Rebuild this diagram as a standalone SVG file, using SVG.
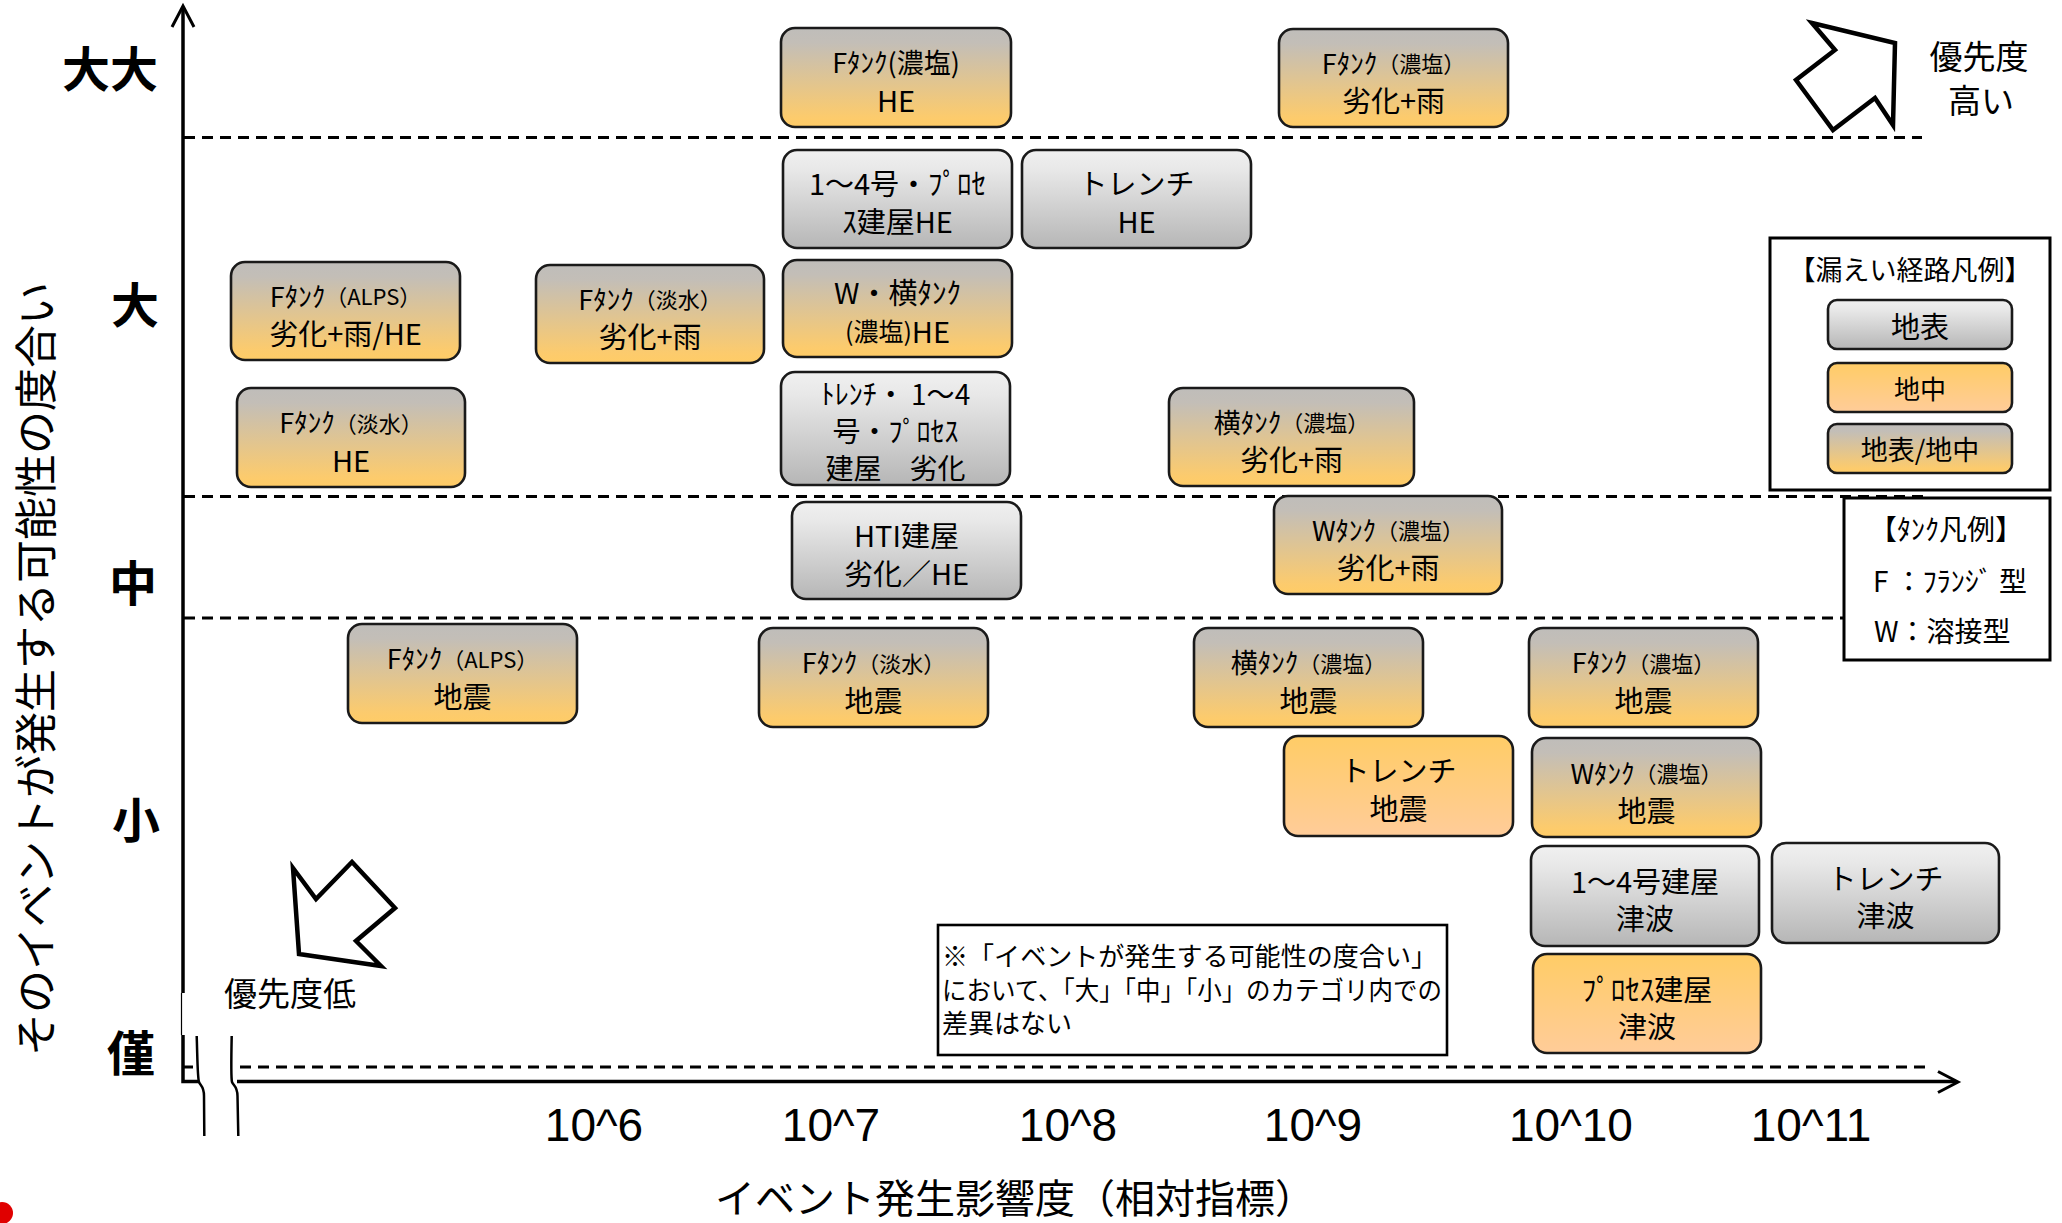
<svg xmlns="http://www.w3.org/2000/svg" width="2062" height="1223" viewBox="0 0 2062 1223">
<style>
text{font-family:"Noto Sans CJK JP","Noto Sans",sans-serif;fill:#000;}
.t{text-anchor:middle;dominant-baseline:central;font-size:29px;}
.s1{font-size:27px;}
.sm{font-size:22px;}
.b{stroke:#1a1a1a;stroke-width:2.6;}
.cat{font-size:48px;font-weight:bold;text-anchor:middle;dominant-baseline:central;}
.tick{font-family:"Liberation Sans",Arial,sans-serif;font-size:46px;text-anchor:middle;}
.dash{stroke:#000;stroke-width:3;stroke-dasharray:11 7;fill:none;}
.ax{stroke:#000;stroke-width:3.5;fill:none;}
.lg{font-size:27px;}
</style>
<defs>
<linearGradient id="gMix" x1="0" y1="0" x2="0" y2="1">
<stop offset="0" stop-color="#BFBDBA"/>
<stop offset="0.15" stop-color="#C3BEB7"/>
<stop offset="0.9" stop-color="#FCCB6D"/>
<stop offset="1" stop-color="#FFCC66"/>
</linearGradient>
<linearGradient id="gGray" x1="0" y1="0" x2="0" y2="1">
<stop offset="0" stop-color="#F0F0F0"/>
<stop offset="0.2" stop-color="#E8E8E8"/>
<stop offset="1" stop-color="#B6B6B6"/>
</linearGradient>
<linearGradient id="gPeach" x1="0" y1="0" x2="0" y2="1">
<stop offset="0" stop-color="#FFCC66"/>
<stop offset="1" stop-color="#FFCC99"/>
</linearGradient>
</defs>
<rect width="2062" height="1223" fill="#fff"/>

<g id="axes">
<line class="dash" x1="184" y1="137.5" x2="1922" y2="137.5"/>
<line class="dash" x1="184" y1="496.5" x2="1923" y2="496.5"/>
<line class="dash" x1="184" y1="618" x2="1844" y2="618"/>
<line class="dash" x1="183" y1="1067" x2="193" y2="1067" stroke-dasharray="none"/>
<line class="dash" x1="240" y1="1067" x2="1925" y2="1067"/>
<path class="ax" d="M183,8 L183,993"/>
<line x1="181.5" y1="993" x2="181.5" y2="1035" stroke="#000" stroke-width="1.2"/>
<path class="ax" d="M183,1035 L183,1081.5 L199,1081.5"/>
<path class="ax" d="M237,1081.5 L1956,1081.5"/>
<path d="M172,27 L183,6 L194,27" stroke="#000" stroke-width="3" fill="none"/>
<path d="M1938,1071.5 L1958,1082 L1938,1092.5" stroke="#000" stroke-width="3" fill="none"/>
<path d="M196.7,1036 C197.5,1060 197.5,1078 199,1082 C200.5,1086 204,1086 204,1096 L204.3,1136" stroke="#000" stroke-width="2.5" fill="none"/>
<path d="M231.7,1036 C231.2,1060 231,1078 232,1082 C233.5,1086 237.3,1086 237.5,1096 L238.3,1136" stroke="#000" stroke-width="2.5" fill="none"/>
</g>

<g id="axis-labels">
<text class="cat" x="110" y="66">大大</text>
<text class="cat" x="135" y="302">大</text>
<text class="cat" x="133" y="580">中</text>
<text class="cat" x="136" y="817">小</text>
<text class="cat" x="131" y="1050">僅</text>
<text transform="translate(33,669) rotate(-90)" text-anchor="middle" dominant-baseline="central" font-size="43">そのイベントが発生する可能性の度合い</text>
<text x="1015" y="1196" text-anchor="middle" dominant-baseline="central" font-size="40">イベント発生影響度（相対指標）</text>
<text class="tick" x="594" y="1141">10^6</text>
<text class="tick" x="831" y="1141">10^7</text>
<text class="tick" x="1068" y="1141">10^8</text>
<text class="tick" x="1313" y="1141">10^9</text>
<text class="tick" x="1571" y="1141">10^10</text>
<text class="tick" x="1811" y="1141">10^11</text>
</g>

<g id="priority">
<polygon points="1812,23 1895,43 1893,125 1875,98 1833,130 1796,80 1835,50" fill="#fff" stroke="#000" stroke-width="4.5" stroke-linejoin="miter"/>
<text x="1979" y="55" text-anchor="middle" dominant-baseline="central" font-size="33">優先度</text>
<text x="1981" y="99" text-anchor="middle" dominant-baseline="central" font-size="33">高い</text>
<polygon points="293,868 316,899 352,862 395,908 356,941 381,966 299,954" fill="#fff" stroke="#000" stroke-width="4.5"/>
<text x="290" y="992" text-anchor="middle" dominant-baseline="central" font-size="33">優先度低</text>
</g>

<g id="n1"><rect class="b" x="781" y="28" width="230" height="99" rx="14" fill="url(#gMix)"/>
<text class="t s1" x="896" y="61.5">Fﾀﾝｸ(濃塩)</text><text class="t" x="896" y="98.5">HE</text></g>
<g id="n2"><rect class="b" x="1279" y="29" width="229" height="98" rx="14" fill="url(#gMix)"/>
<text class="t s1" x="1393.5" y="62">Fﾀﾝｸ<tspan class="sm">（濃塩）</tspan></text><text class="t" x="1393.5" y="99">劣化+雨</text></g>
<g id="n3"><rect class="b" x="783" y="150" width="229" height="98" rx="14" fill="url(#gGray)"/>
<text class="t" x="897.5" y="182">1〜4号・ﾌﾟﾛｾ</text><text class="t" x="897.5" y="220">ｽ建屋HE</text></g>
<g id="n4"><rect class="b" x="1022" y="150" width="229" height="98" rx="14" fill="url(#gGray)"/>
<text class="t" x="1136.5" y="182">トレンチ</text><text class="t" x="1136.5" y="220">HE</text></g>
<g id="n5"><rect class="b" x="231" y="262" width="229" height="98" rx="14" fill="url(#gMix)"/>
<text class="t s1" x="345.5" y="295">Fﾀﾝｸ<tspan class="sm">（ALPS）</tspan></text><text class="t" x="345.5" y="332">劣化+雨/HE</text></g>
<g id="n6"><rect class="b" x="536" y="265" width="228" height="98" rx="14" fill="url(#gMix)"/>
<text class="t s1" x="650" y="298">Fﾀﾝｸ<tspan class="sm">（淡水）</tspan></text><text class="t" x="650" y="335">劣化+雨</text></g>
<g id="n7"><rect class="b" x="783" y="260" width="229" height="97" rx="14" fill="url(#gMix)"/>
<text class="t" x="897.5" y="291">W・横ﾀﾝｸ</text><text class="t" x="897.5" y="330"><tspan font-size="25">(濃塩)</tspan>HE</text></g>
<g id="n8"><rect class="b" x="237" y="388" width="228" height="99" rx="14" fill="url(#gMix)"/>
<text class="t s1" x="351" y="421.5">Fﾀﾝｸ<tspan class="sm">（淡水）</tspan></text><text class="t" x="351" y="458.5">HE</text></g>
<g id="n9"><rect class="b" x="781" y="372" width="229" height="113" rx="14" fill="url(#gGray)"/>
<text class="t" x="895.5" y="393" style="font-size:28px">ﾄﾚﾝﾁ・ 1〜4</text><text class="t" x="895.5" y="430" style="font-size:28px">号・ﾌﾟﾛｾｽ</text><text class="t" x="895.5" y="467" style="font-size:28px">建屋　劣化</text></g>
<g id="n10"><rect class="b" x="1169" y="388" width="245" height="98" rx="14" fill="url(#gMix)"/>
<text class="t s1" x="1291.5" y="421">横ﾀﾝｸ<tspan class="sm">（濃塩）</tspan></text><text class="t" x="1291.5" y="458">劣化+雨</text></g>
<g id="n11"><rect class="b" x="792" y="502" width="229" height="97" rx="14" fill="url(#gGray)"/>
<text class="t" x="906.5" y="534">HTI建屋</text><text class="t" x="906.5" y="571.5">劣化／HE</text></g>
<g id="n12"><rect class="b" x="1274" y="496" width="228" height="98" rx="14" fill="url(#gMix)"/>
<text class="t s1" x="1388" y="529">Wﾀﾝｸ<tspan class="sm">（濃塩）</tspan></text><text class="t" x="1388" y="566">劣化+雨</text></g>
<g id="n13"><rect class="b" x="348" y="624" width="229" height="99" rx="14" fill="url(#gMix)"/>
<text class="t s1" x="462.5" y="657.5">Fﾀﾝｸ<tspan class="sm">（ALPS）</tspan></text><text class="t" x="462.5" y="694.5">地震</text></g>
<g id="n14"><rect class="b" x="759" y="628" width="229" height="99" rx="14" fill="url(#gMix)"/>
<text class="t s1" x="873.5" y="661.5">Fﾀﾝｸ<tspan class="sm">（淡水）</tspan></text><text class="t" x="873.5" y="698.5">地震</text></g>
<g id="n15"><rect class="b" x="1194" y="628" width="229" height="99" rx="14" fill="url(#gMix)"/>
<text class="t s1" x="1308.5" y="661.5">横ﾀﾝｸ<tspan class="sm">（濃塩）</tspan></text><text class="t" x="1308.5" y="698.5">地震</text></g>
<g id="n16"><rect class="b" x="1529" y="628" width="229" height="99" rx="14" fill="url(#gMix)"/>
<text class="t s1" x="1643.5" y="661.5">Fﾀﾝｸ<tspan class="sm">（濃塩）</tspan></text><text class="t" x="1643.5" y="698.5">地震</text></g>
<g id="n17"><rect class="b" x="1284" y="736" width="229" height="100" rx="14" fill="url(#gPeach)"/>
<text class="t" x="1398.5" y="769">トレンチ</text><text class="t" x="1398.5" y="807">地震</text></g>
<g id="n18"><rect class="b" x="1532" y="738" width="229" height="99" rx="14" fill="url(#gMix)"/>
<text class="t s1" x="1646.5" y="772">Wﾀﾝｸ<tspan class="sm">（濃塩）</tspan></text><text class="t" x="1646.5" y="808.5">地震</text></g>
<g id="n19"><rect class="b" x="1531" y="846" width="228" height="100" rx="14" fill="url(#gGray)"/>
<text class="t" x="1645" y="880">1〜4号建屋</text><text class="t" x="1645" y="917">津波</text></g>
<g id="n20"><rect class="b" x="1772" y="843" width="227" height="100" rx="14" fill="url(#gGray)"/>
<text class="t" x="1885.5" y="877">トレンチ</text><text class="t" x="1885.5" y="914">津波</text></g>
<g id="n21"><rect class="b" x="1533" y="954" width="228" height="99" rx="14" fill="url(#gPeach)"/>
<text class="t" x="1647" y="987.5">ﾌﾟﾛｾｽ建屋</text><text class="t" x="1647" y="1024.5">津波</text></g>

<g id="note">
<rect x="938" y="925" width="509" height="130" fill="#fff" stroke="#000" stroke-width="2.6"/>
<text x="942" y="954" dominant-baseline="central" font-size="26" textLength="495" lengthAdjust="spacingAndGlyphs">※「イベントが発生する可能性の度合い」</text>
<text x="942" y="988" dominant-baseline="central" font-size="26" textLength="500" lengthAdjust="spacingAndGlyphs">において、「大」「中」「小」のカテゴリ内での</text>
<text x="942" y="1021" dominant-baseline="central" font-size="26">差異はない</text>
</g>

<g id="legend-route">
<rect x="1770" y="238" width="280" height="252" fill="#fff" stroke="#000" stroke-width="3"/>
<text class="t lg" x="1910" y="268">【漏えい経路凡例】</text>
<rect class="b" x="1828" y="300" width="184" height="49" rx="9" fill="url(#gGray)"/>
<text class="t" x="1920" y="324.5" font-size="29">地表</text>
<rect class="b" x="1828" y="363" width="184" height="49" rx="9" fill="url(#gPeach)"/>
<text class="t" x="1920" y="387.5" style="font-size:26px">地中</text>
<rect class="b" x="1828" y="424" width="184" height="49" rx="9" fill="url(#gMix)"/>
<text class="t" x="1920" y="448.5" style="font-size:27px">地表/地中</text>
</g>

<g id="legend-tank">
<rect x="1844" y="498" width="206" height="162" fill="#fff" stroke="#000" stroke-width="3"/>
<text class="t" x="1946" y="528" style="font-size:28px">【ﾀﾝｸ凡例】</text>
<text x="1873" y="580" dominant-baseline="central" font-size="28">F ：ﾌﾗﾝｼﾞ 型</text>
<text x="1874" y="630" dominant-baseline="central" font-size="28">W：溶接型</text>
</g>

<circle cx="2" cy="1213" r="11" fill="#E00000"/>
</svg>
